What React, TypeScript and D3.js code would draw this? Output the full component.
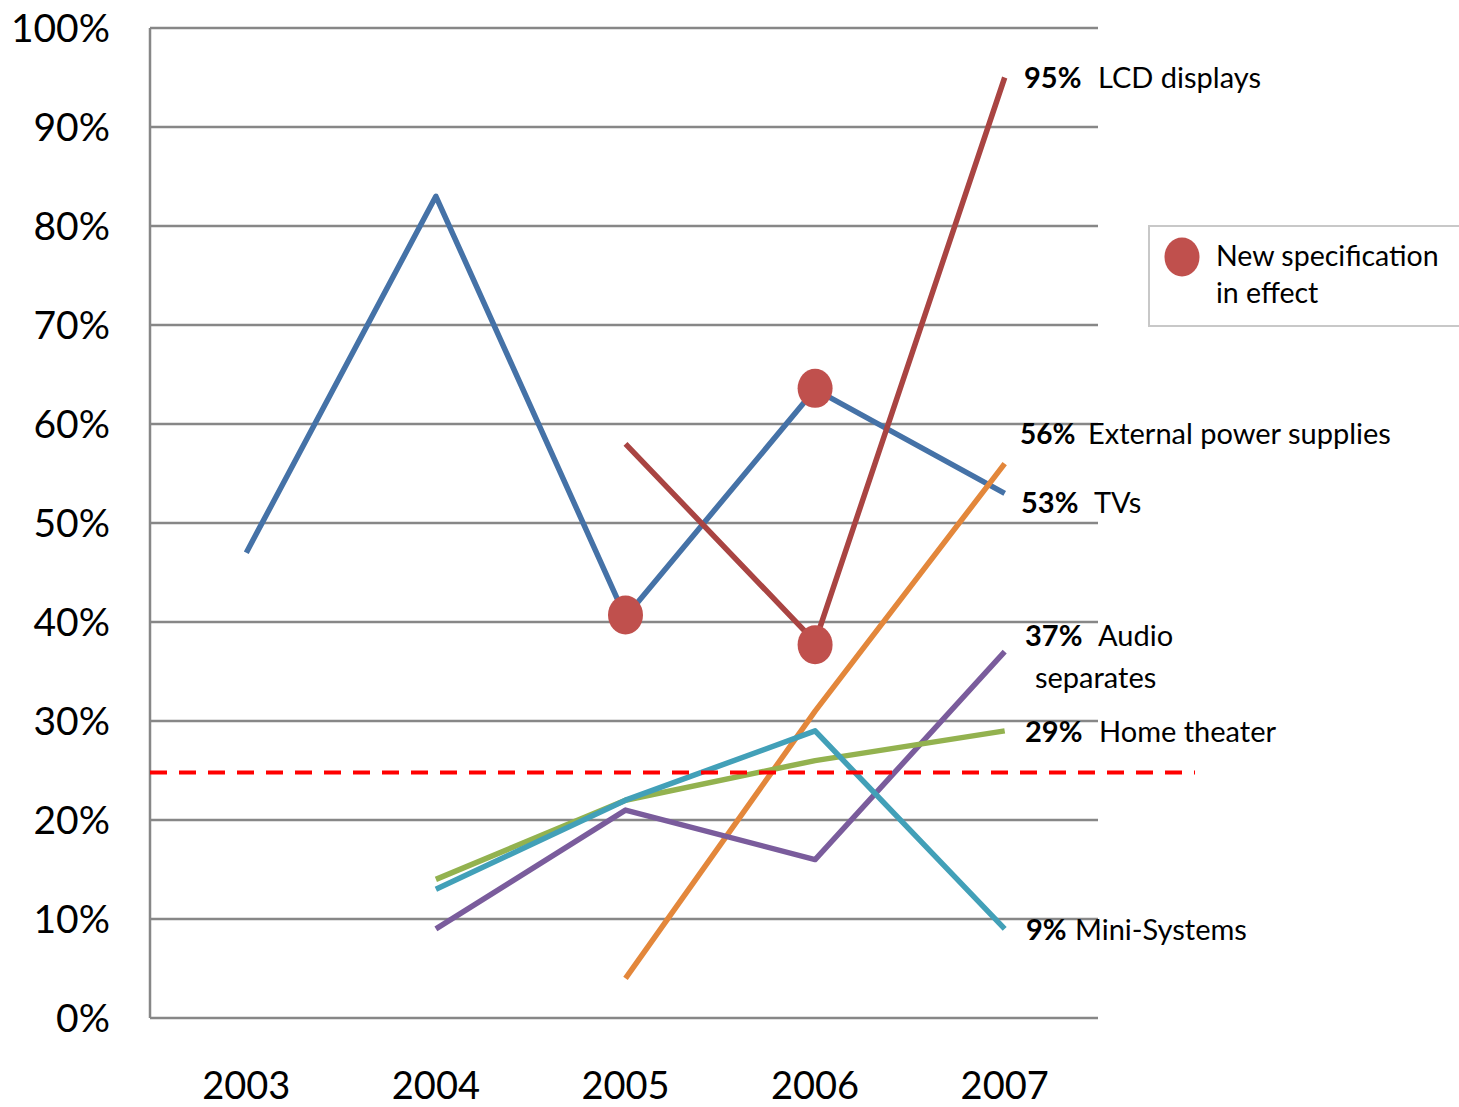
import React from "react";
import * as d3 from "d3";

const years = ["2003", "2004", "2005", "2006", "2007"];
const yTicks = [0, 0.1, 0.2, 0.3, 0.4, 0.5, 0.6, 0.7, 0.8, 0.9, 1.0];

const tvs = [0.47, 0.83, 0.405, 0.635, 0.53];
const lcd = [null, null, 0.58, 0.38, 0.95];
const externalPower = [null, null, 0.04, 0.31, 0.56];
const audioSeparates = [null, 0.09, 0.21, 0.16, 0.37];
const homeTheater = [null, 0.14, 0.22, 0.26, 0.29];
const miniSystems = [null, 0.13, 0.22, 0.29, 0.09];

const thresholdValue = 0.248;

// New specification markers: [year, value]
const specMarkers: [string, number][] = [
  ["2005", 0.407],
  ["2006", 0.636],
  ["2006", 0.377],
];

const seriesDefs = [
  { key: "tvs", values: tvs, color: "#4572A7" },
  { key: "lcd", values: lcd, color: "#A94442" },
  { key: "ext", values: externalPower, color: "#E3873B" },
  { key: "audio", values: audioSeparates, color: "#7A5C9C" },
  { key: "home", values: homeTheater, color: "#93B24F" },
  { key: "mini", values: miniSystems, color: "#42A0B8" },
];

const endLabels = [
  { pct: "95%", name: "LCD displays", x: 1024, nx: 1098, y: 78 },
  { pct: "56%", name: "External power supplies", x: 1020, nx: 1088, y: 434, pfs: 28 },
  { pct: "53%", name: "TVs", x: 1021, nx: 1094, y: 503 },
  { pct: "37%", name: "Audio", x: 1025, nx: 1098, y: 636 },
  { pct: "", name: "separates", x: 1035, nx: 1035, y: 678 },
  { pct: "29%", name: "Home theater", x: 1025, nx: 1099, y: 732 },
  { pct: "9%", name: "Mini-Systems", x: 1026, nx: 1075, y: 930 },
];

export default function App() {
  const W = 1459, H = 1107;
  const left = 150, right = 1098, top = 28, bottom = 1018;
  const x = d3.scaleBand<string>().domain(years).range([151.5, 1099.5]);
  const cx = (yr: string) => (x(yr) as number) + x.bandwidth() / 2;
  const y = d3.scaleLinear().domain([0, 1]).range([bottom, top]);
  const line = d3
    .line<number | null>()
    .defined((d) => d != null)
    .x((_, i) => cx(years[i]))
    .y((d) => y(d as number));
  const font = "Lato, 'Open Sans', sans-serif";

  return (
    <svg width={W} height={H} style={{ position: "absolute", left: 0, top: 0, background: "#fff" }} fontFamily={font}>
      <rect x={0} y={0} width={W} height={H} fill="#fff" />
      {yTicks.map((t) => (
        <g key={t}>
          <line x1={left} x2={right} y1={y(t)} y2={y(t)} stroke="#878787" strokeWidth={2.5} />
          <text x={110} y={y(t)} dy="0.36em" textAnchor="end" fontSize={39} fill="#000">
            {d3.format(".0%")(t)}
          </text>
        </g>
      ))}
      <line x1={left} x2={left} y1={top} y2={bottom} stroke="#878787" strokeWidth={2.5} />
      {years.map((yr) => (
        <text key={yr} x={cx(yr)} y={1099} textAnchor="middle" fontSize={38} fill="#000">
          {yr}
        </text>
      ))}
      {seriesDefs.map((s) => (
        <path key={s.key} d={line(s.values) || ""} fill="none" stroke={s.color} strokeWidth={5.5} strokeLinejoin="round" />
      ))}
      <line
        x1={left}
        x2={1195}
        y1={y(thresholdValue)}
        y2={y(thresholdValue)}
        stroke="#FF0000"
        strokeWidth={4}
        strokeDasharray="17 12"
      />
      {specMarkers.map(([yr, v], i) => (
        <ellipse key={i} cx={cx(yr)} cy={y(v)} rx={17.5} ry={19.5} fill="#C0504D" />
      ))}
      {endLabels.map((l, i) => (
        <g key={i} fontSize={29} fill="#000">
          {l.pct && (
            <text x={l.x} y={l.y} dy="0.36em" fontWeight="bold" fontSize={l.pfs || 29}>
              {l.pct}
            </text>
          )}
          <text x={l.nx} y={l.y} dy="0.36em">
            {l.name}
          </text>
        </g>
      ))}
      <rect x={1149} y={226} width={312} height={100} fill="#fff" stroke="#C8C8C8" strokeWidth={2} />
      <ellipse cx={1182} cy={257} rx={17.5} ry={19.5} fill="#C0504D" />
      <text x={1216} y={256} dy="0.36em" fontSize={28.5} fill="#000">New specification</text>
      <text x={1216} y={293} dy="0.36em" fontSize={28.5} fill="#000">in effect</text>
    </svg>
  );
}
